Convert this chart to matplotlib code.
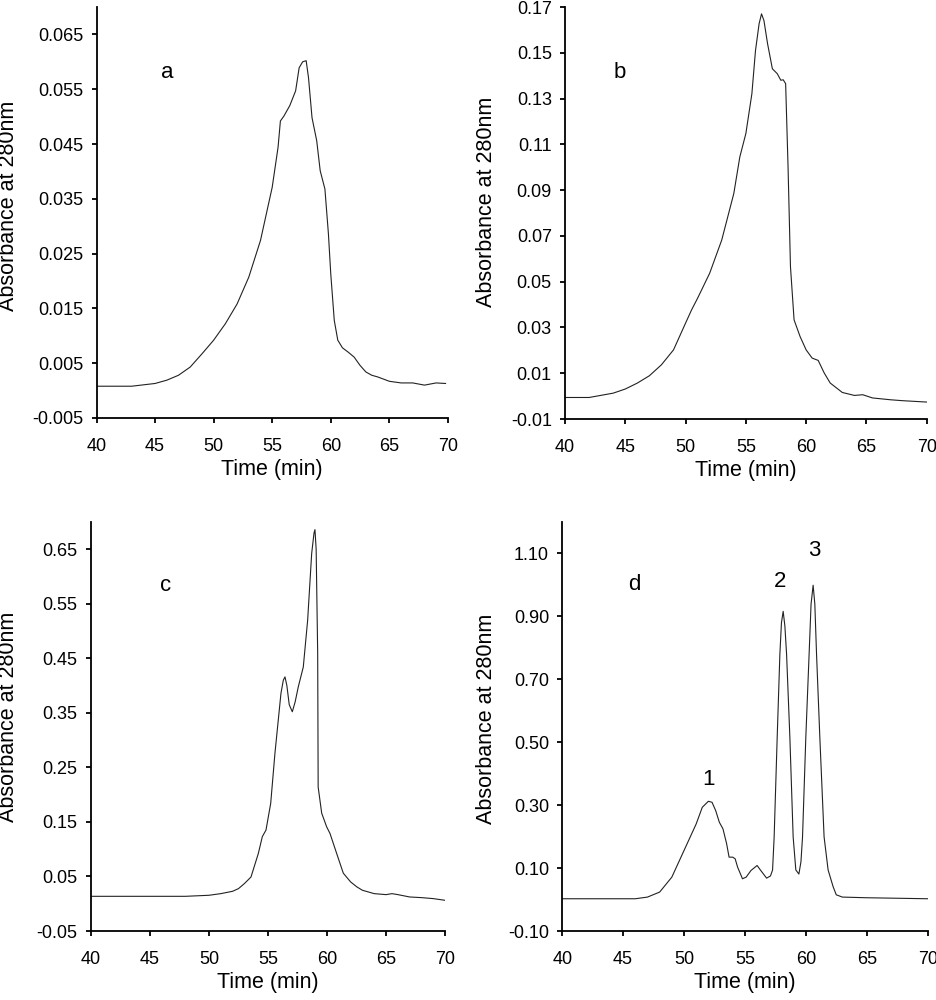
import numpy as np
import matplotlib
matplotlib.use('Agg')
import matplotlib.pyplot as plt

# chromatogram traces (time in min, absorbance at 280nm)
time_a = [40, 43, 45, 46, 47, 48, 49, 50, 51, 52, 53, 54, 55, 55.5, 55.7, 56, 56.5, 57, 57.3, 57.6, 57.9,
          58.1, 58.4, 58.8, 59.1, 59.5, 59.8, 60, 60.3, 60.6, 61, 61.5, 62, 62.5, 63, 63.5, 64, 65, 66, 67,
          68, 69, 69.8]
abs_a = [0.0008, 0.0008, 0.0013, 0.0019, 0.0028, 0.0043, 0.0067, 0.0092, 0.0122, 0.0158, 0.0207, 0.0274,
         0.0371, 0.0444, 0.0492, 0.0501, 0.0520, 0.0547, 0.0589, 0.0600, 0.0602, 0.0571, 0.0498, 0.0456,
         0.0401, 0.0368, 0.0286, 0.0213, 0.0128, 0.0092, 0.0078, 0.0070, 0.0061, 0.0046, 0.0034, 0.0028,
         0.0025, 0.0017, 0.0014, 0.0014, 0.0010, 0.0014, 0.0013]

time_b = [40, 42, 44, 45, 46, 47, 48, 49, 50, 50.5, 51, 52, 53, 54, 54.5, 55, 55.5, 55.8, 56.1, 56.3, 56.5,
          56.8, 57.2, 57.6, 57.9, 58.1, 58.3, 58.5, 58.7, 59, 59.5, 60, 60.5, 61, 61.5, 62, 63, 64, 64.7,
          65.5, 67, 68, 70]
abs_b = [-0.0006, -0.0006, 0.0013, 0.0031, 0.0057, 0.0089, 0.0137, 0.0202, 0.0319, 0.0377, 0.0428, 0.0537,
         0.0682, 0.0885, 0.1045, 0.1147, 0.1321, 0.1510, 0.1627, 0.1670, 0.1641, 0.1540, 0.1430, 0.1409,
         0.1380, 0.1382, 0.1365, 0.1002, 0.0566, 0.0333, 0.0260, 0.0202, 0.0166, 0.0156, 0.0101, 0.0057,
         0.0016, 0.0003, 0.0006, -0.0008, -0.0016, -0.0020, -0.0026]

time_c = [40, 48, 50, 51, 52, 52.5, 53, 53.56, 54.18, 54.52, 54.83, 55.23, 55.59, 56.1, 56.3, 56.44, 56.6,
          56.8, 57.06, 57.3, 57.57, 57.99, 58.36, 58.7, 58.9, 58.98, 59.08, 59.21, 59.25, 59.55, 59.97,
          60.25, 60.82, 61.38, 62, 62.52, 63, 64, 65, 65.5, 66, 67, 68, 69, 70]
abs_c = [0.0136, 0.0136, 0.0155, 0.0185, 0.0228, 0.0277, 0.0369, 0.049, 0.092, 0.123, 0.135, 0.184, 0.276,
         0.386, 0.410, 0.416, 0.400, 0.365, 0.352, 0.370, 0.398, 0.434, 0.520, 0.642, 0.680, 0.686, 0.650,
         0.459, 0.214, 0.166, 0.141, 0.129, 0.092, 0.056, 0.040, 0.031, 0.0247, 0.0185, 0.0167, 0.0185,
         0.0167, 0.0124, 0.0112, 0.0094, 0.0063]

time_d = [40, 46, 47, 48, 49, 50, 50.5, 51, 51.5, 52, 52.3, 52.6, 52.9, 53.2, 53.5, 53.7, 54, 54.2, 54.4,
          54.8, 55.1, 55.5, 56, 56.3, 56.78, 57.1, 57.27, 57.4, 57.65, 57.87, 58.0, 58.14, 58.28, 58.42,
          58.69, 58.96, 59.18, 59.43, 59.6, 59.73, 60.0, 60.27, 60.43, 60.6, 60.74, 60.88, 61.15, 61.5,
          61.83, 62.24, 62.5, 63, 65, 70]
abs_d = [0.0025, 0.0025, 0.0078, 0.0237, 0.0712, 0.1558, 0.1981, 0.2404, 0.2932, 0.3123, 0.3091, 0.2827,
         0.2457, 0.2245, 0.1770, 0.1347, 0.1347, 0.1294, 0.1030, 0.0660, 0.0712, 0.0924, 0.1082, 0.0924,
         0.068, 0.075, 0.094, 0.199, 0.516, 0.780, 0.880, 0.916, 0.870, 0.780, 0.516, 0.199, 0.094, 0.081,
         0.120, 0.199, 0.516, 0.780, 0.939, 0.999, 0.939, 0.780, 0.516, 0.199, 0.094, 0.041, 0.015,
         0.0078, 0.0057, 0.0025]

yticks_a = [-0.005, 0.005, 0.015, 0.025, 0.035, 0.045, 0.055, 0.065]
yticks_b = [-0.01, 0.01, 0.03, 0.05, 0.07, 0.09, 0.11, 0.13, 0.15, 0.17]
yticks_c = [-0.05, 0.05, 0.15, 0.25, 0.35, 0.45, 0.55, 0.65]
yticks_d = [-0.10, 0.10, 0.30, 0.50, 0.70, 0.90, 1.10]
xticks = [40, 45, 50, 55, 60, 65, 70]

peak_labels = ['1', '2', '3']
peak_pos = [(52.0, 0.38), (57.9, 1.01), (60.7, 1.11)]

plt.rcParams['font.family'] = ['Liberation Sans', 'DejaVu Sans']
plt.rcParams['axes.unicode_minus'] = False

fig = plt.figure(figsize=(9.37, 10), dpi=100)

panels = [
    # rect, x, y, ylim, yticks, fmt, letter, letter pos, ylabel coords
    ([0.103, 0.582, 0.375, 0.411], time_a, abs_a, (-0.005, 0.07), yticks_a, '%.3f', 'a', (46.0, 0.058), (-0.22, 0.516)),
    ([0.603, 0.581, 0.386, 0.412], time_b, abs_b, (-0.01, 0.17), yticks_b, '%.2f', 'b', (44.5, 0.1415), (-0.188, 0.527)),
    ([0.097, 0.069, 0.378, 0.409], time_c, abs_c, (-0.05, 0.70), yticks_c, '%.2f', 'c', (46.3, 0.584), (-0.202, 0.523)),
    ([0.600, 0.069, 0.390, 0.409], time_d, abs_d, (-0.10, 1.20), yticks_d, '%.2f', 'd', (45.9, 1.0), (-0.178, 0.518)),
]

for rect, x, y, ylim, yt, fmt, letter, lpos, lcoords in panels:
    ax = fig.add_axes(rect)
    ax.plot(x, y, color='#222222', linewidth=0.8)
    ax.set_xlim(40, 70)
    ax.set_ylim(*ylim)
    ax.set_xticks(xticks)
    ax.set_yticks(yt)
    ax.set_yticklabels([fmt % v for v in yt])
    ax.spines['top'].set_visible(False)
    ax.spines['right'].set_visible(False)
    ax.spines['left'].set_linewidth(1.3)
    ax.spines['bottom'].set_linewidth(1.3)
    ax.tick_params(axis='both', direction='out', length=3.5, width=1.3, labelsize=13)
    ax.tick_params(axis='x', pad=11)
    ax.tick_params(axis='y', pad=6)
    ax.set_xlabel('Time (min)', fontsize=15.5)
    ax.set_ylabel('Absorbance at 280nm', fontsize=15.5)
    ax.xaxis.set_label_coords(0.5, -0.1)
    ax.yaxis.set_label_coords(*lcoords)
    ax.text(lpos[0], lpos[1], letter, fontsize=16, ha='center', va='center')
    if letter == 'd':
        for lab, (px, py) in zip(peak_labels, peak_pos):
            ax.text(px, py, lab, fontsize=16, ha='center', va='center')

fig.savefig('out.png', dpi=100)
